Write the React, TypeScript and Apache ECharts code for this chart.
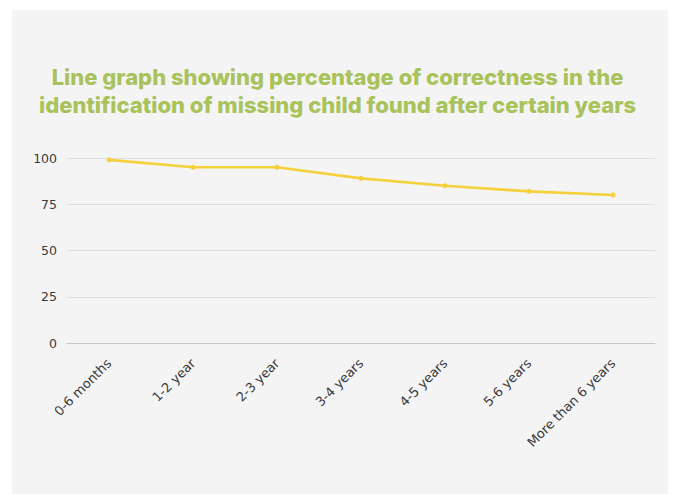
import React, { useEffect, useRef } from "react";
import * as echarts from "echarts";

const titleLines = [
  "Line graph showing percentage of correctness in the",
  "identification of missing child found after certain years",
];
const categories = [
  "0-6 months",
  "1-2 year",
  "2-3 year",
  "3-4 years",
  "4-5 years",
  "5-6 years",
  "More than 6 years",
];
const values = [99, 95, 95, 89, 85, 82, 80];
const yMin = 0;
const yMax = 100;
const yInterval = 25;

export default function App() {
  const ref = useRef<HTMLDivElement>(null);
  useEffect(() => {
    document.body.style.margin = "0";
    if (!ref.current) return;
    const chart = echarts.init(ref.current, null, { renderer: "svg" });
    chart.setOption({
      animation: false,
      backgroundColor: "transparent",
      title: {
        text: titleLines.join("\n"),
        left: "center",
        top: 58,
        textStyle: {
          fontFamily: "Inter",
          fontWeight: 800,
          fontSize: 22,
          lineHeight: 28,
          color: "#a8c35b",
        },
      },
      grid: { left: 67, right: 20, top: 158, bottom: 151 },
      xAxis: {
        type: "category",
        data: categories,
        boundaryGap: true,
        axisTick: { show: false },
        axisLine: { lineStyle: { color: "#c8c8c8", width: 1 } },
        axisLabel: {
          rotate: 45,
          margin: 18,
          interval: 0,
          color: "#3a3a3a",
          fontFamily: "DejaVu Sans",
          fontSize: 13,
        },
      },
      yAxis: {
        type: "value",
        min: yMin,
        max: yMax,
        interval: yInterval,
        axisLine: { show: false },
        axisTick: { show: false },
        splitLine: { lineStyle: { color: "#dddddd", width: 1 } },
        axisLabel: {
          margin: 10,
          color: "#3a3a3a",
          fontFamily: "DejaVu Sans",
          fontSize: 12.5,
        },
      },
      series: [
        {
          type: "line",
          data: values,
          symbol: "circle",
          symbolSize: 5,
          lineStyle: { color: "#f3d13a", width: 2.7 },
          itemStyle: { color: "#f3d13a" },
        },
      ],
    });
    return () => chart.dispose();
  }, []);
  return (
    <div style={{ position: "relative", width: 675, height: 494, background: "#ffffff" }}>
      <div
        style={{
          position: "absolute",
          left: 12,
          top: 10,
          width: 656,
          height: 484,
          background: "#f4f4f4",
        }}
      />
      <div ref={ref} style={{ position: "absolute", left: 0, top: 0, width: 675, height: 494 }} />
    </div>
  );
}
